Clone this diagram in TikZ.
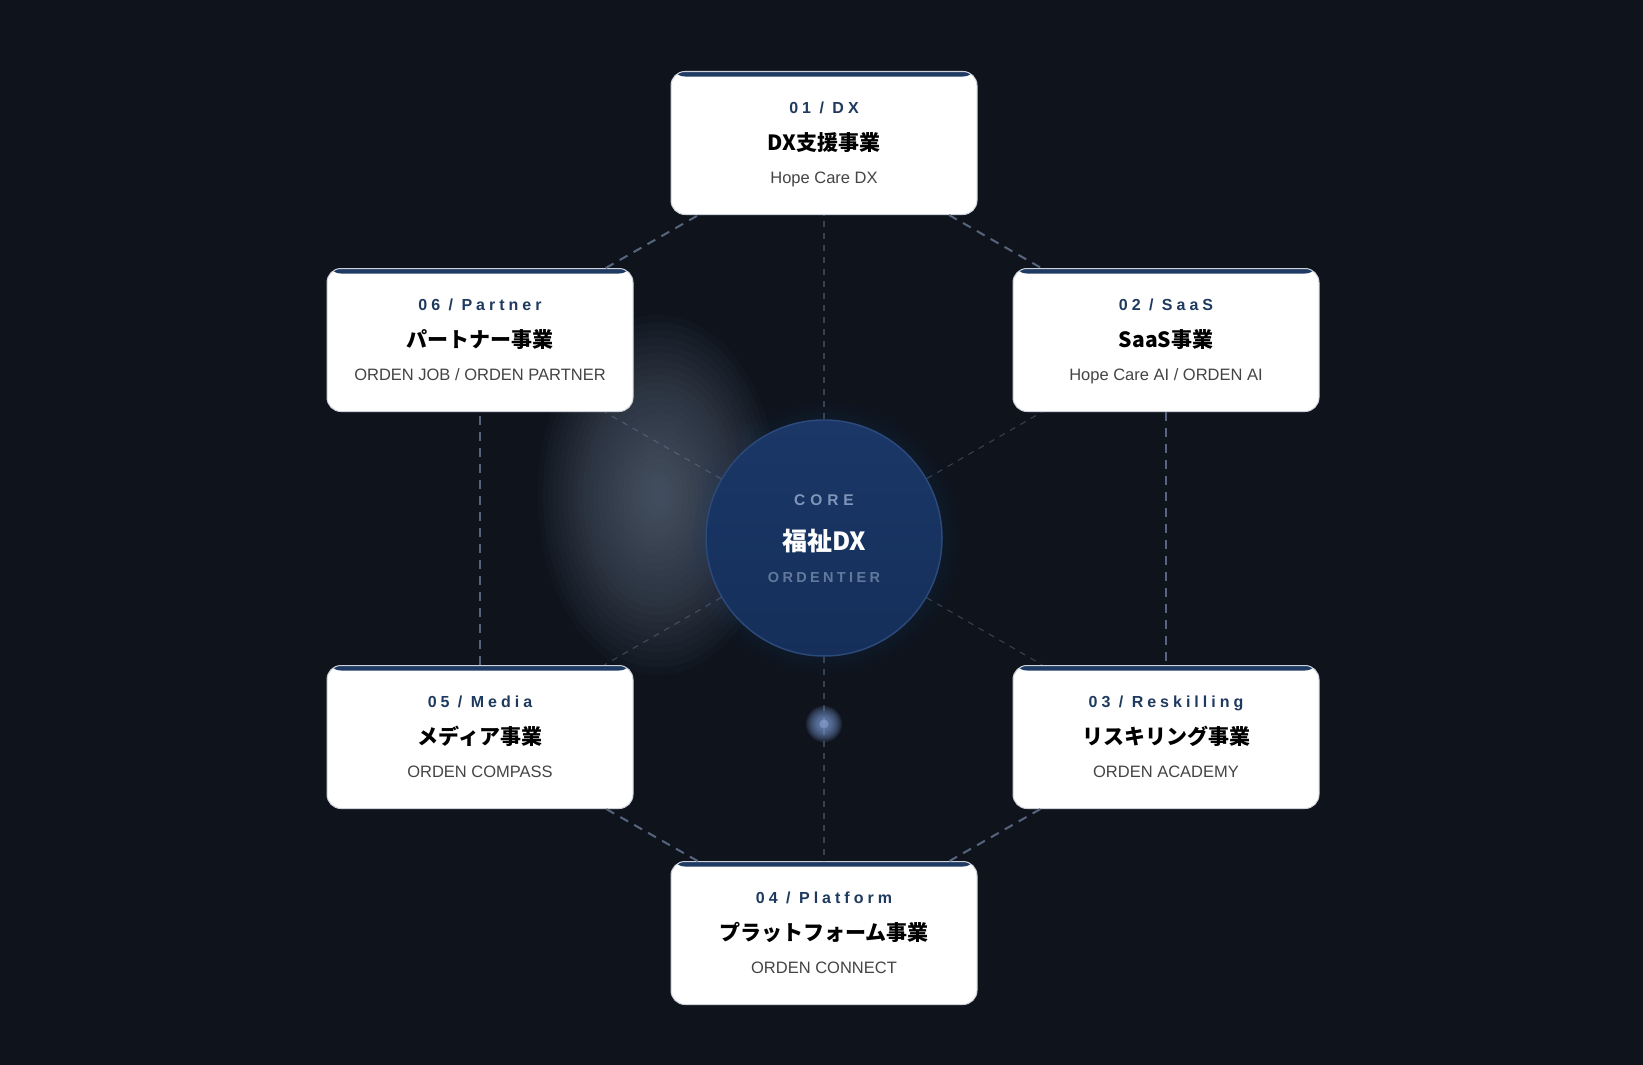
\documentclass[tikz,border=0pt]{standalone}
\usepackage{fontspec}
\usepackage{tikz}
\usetikzlibrary{positioning}
\setmainfont{Liberation Sans}
\newfontfamily\jpfont{Noto Sans CJK JP}
\newfontfamily\tagfont[LetterSpace=25]{Liberation Sans}
\newfontfamily\corefont[LetterSpace=32]{Liberation Sans}
\newfontfamily\orgfont[LetterSpace=23]{Liberation Sans}
\definecolor{bg}{HTML}{0E131C}
\definecolor{haze}{HTML}{6A768C}
\definecolor{hexline}{HTML}{56657D}
\definecolor{spokeline}{HTML}{8494AE}
\definecolor{stripe}{HTML}{1F3B63}
\definecolor{boxedge}{HTML}{CDD2DA}
\definecolor{tagcol}{HTML}{1F3A5F}
\definecolor{subcol}{HTML}{444444}
\definecolor{coretop}{HTML}{1A3767}
\definecolor{corebot}{HTML}{152F5A}
\definecolor{coreedge}{HTML}{2B4979}
\definecolor{coretag}{HTML}{7F96BA}
\definecolor{orgcol}{HTML}{62799C}
\definecolor{pulse}{HTML}{7C9CD6}

\begin{document}
\begin{tikzpicture}[
x=1pt, y=-1pt,
unitbox/.style={
  rectangle,
  rounded corners=14pt,
  fill=white,
  draw=boxedge,
  line width=1pt,
  minimum width=306pt,
  minimum height=143pt,
  path picture={\fill[stripe] (path picture bounding box.north west) rectangle ([yshift=-5pt]path picture bounding box.north east);}
  },
tagtext/.style={anchor=base, inner sep=0pt, text=tagcol, font=\tagfont\bfseries\fontsize{16}{19}\selectfont},
nametext/.style={anchor=base, inner sep=0pt, text=black, font=\jpfont\bfseries\fontsize{21}{25}\selectfont},
subtext/.style={anchor=base, inner sep=0pt, text=subcol, font=\fontsize{16.5}{20}\selectfont},
ring/.style={draw=hexline, line width=2pt, dash pattern=on 9pt off 7pt},
spoke/.style={draw=spokeline, draw opacity=0.35, line width=1.1pt, dash pattern=on 6pt off 6pt}
]
\useasboundingbox (0,0) rectangle (1643,1065);
\fill[bg] (0,0) rectangle (1643,1065);
% soft light behind the core
\foreach \k in {1,...,24}
  \fill[haze, opacity=0.045] (658,495) ellipse ({5*\k} and {7.5*\k});
\foreach \k in {1,...,5}
  \fill[coreedge, opacity=0.03] (824,538) circle ({118+4*\k});

\foreach \Name/\Px/\Py/\Tag/\Title/\Sub in {
  dx/824/143/{01 / DX}/DX支援事業/Hope Care DX,
  saas/1166/340/{02 / SaaS}/SaaS事業/{Hope Care AI / ORDEN AI},
  reskill/1166/737/{03 / Reskilling}/リスキリング事業/ORDEN ACADEMY,
  platform/824/933/{04 / Platform}/プラットフォーム事業/ORDEN CONNECT,
  media/480/737/{05 / Media}/メディア事業/ORDEN COMPASS,
  partner/480/340/{06 / Partner}/パートナー事業/{ORDEN JOB / ORDEN PARTNER}}
{
  \node[unitbox] (\Name) at (\Px,\Py) {};
  \node[tagtext] (\Name-tag) at ([yshift=30pt]\Name.center) {\Tag};
  \node[nametext] (\Name-title) at ([yshift=-7pt]\Name.center) {\Title};
  \node[subtext] (\Name-sub) at ([yshift=-40pt]\Name.center) {\Sub};
}

\node[circle, minimum size=236pt, draw=coreedge, line width=1.5pt,
  top color=coretop, bottom color=corebot] (core) at (824,538) {};
\node[anchor=base, inner sep=0pt, text=coretag, font=\corefont\bfseries\fontsize{15.5}{18}\selectfont]
  (core-tag) at ([yshift=33pt]core.center) {CORE};
\node[anchor=base, inner sep=0pt, text=white, font=\jpfont\bfseries\fontsize{25}{30}\selectfont]
  (core-title) at ([yshift=-12pt]core.center) {福祉DX};
\node[anchor=base, inner sep=0pt, text=orgcol, font=\orgfont\bfseries\fontsize{14.5}{17}\selectfont]
  (core-sub) at ([yshift=-44pt]core.center) {ORDENTIER};

\path[ring]
  (dx) edge (saas)
  (saas) edge (reskill)
  (reskill) edge (platform)
  (platform) edge (media)
  (media) edge (partner)
  (partner) edge (dx);
\path[spoke]
  (core) edge (dx)
  (core) edge (saas)
  (core) edge (reskill)
  (core) edge (platform)
  (core) edge (media)
  (core) edge (partner);

% small light on the lower spoke
\foreach \k in {1,...,14}
  \fill[pulse, opacity=0.11] (824,724) circle ({1.3*\k});
\node[circle, minimum size=9pt, inner sep=0pt, fill=pulse!70!white, opacity=0.35] (beacon) at (824,724) {};
\end{tikzpicture}
\end{document}
